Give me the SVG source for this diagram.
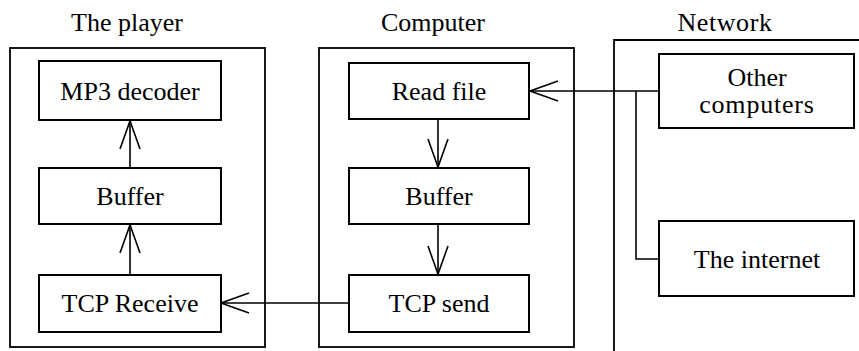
<svg xmlns="http://www.w3.org/2000/svg" width="859" height="351" viewBox="0 0 859 351" font-family="'Liberation Serif', 'Times New Roman', 'DejaVu Serif', serif">
  <defs>
    <style>
      .frame { fill: none; stroke: #000; stroke-width: 1.8; }
      .box { fill: #fff; stroke: #000; stroke-width: 2; }
      .wire { fill: none; stroke: #000; stroke-width: 1.6; }
      .label { font-family: 'Liberation Serif', 'Times New Roman', 'DejaVu Serif', serif; font-size: 26px; fill: #000; text-anchor: middle; }
    </style>
  </defs>

  <!-- group frames -->
  <g id="player">
    <rect class="frame" x="10" y="48" width="255" height="299"/>
    <text class="label" x="127" y="31">The player</text>
  </g>
  <g id="computer">
    <rect class="frame" x="319" y="48" width="255" height="299"/>
    <text class="label" x="433" y="31">Computer</text>
  </g>
  <g id="network">
    <path class="frame" d="M614 351 V40 H859"/>
    <text class="label" x="725" y="31" letter-spacing="0.6">Network</text>
  </g>

  <!-- connectors, each with an open V head -->
  <g id="connectors">
    <!-- player: TCP Receive -> Buffer -> MP3 decoder -->
    <path class="wire" d="M130 275 V225"/>
    <path class="wire" d="M120 253 L130 225 L140 253"/>
    <path class="wire" d="M130 168 V121"/>
    <path class="wire" d="M120 149 L130 121 L140 149"/>
    <!-- computer: Read file -> Buffer -> TCP send -->
    <path class="wire" d="M438 119 V167"/>
    <path class="wire" d="M428 139 L438 167 L448 139"/>
    <path class="wire" d="M438 224 V274"/>
    <path class="wire" d="M428 246 L438 274 L448 246"/>
    <!-- TCP send -> TCP Receive -->
    <path class="wire" d="M349 303 H221"/>
    <path class="wire" d="M249 293 L221 303 L249 313"/>
    <!-- network sources -> Read file -->
    <path class="wire" d="M659 91 H530"/>
    <path class="wire" d="M558 81 L530 91 L558 101"/>
    <path class="wire" d="M636 91 V259 H659"/>
  </g>

  <!-- nodes -->
  <g id="mp3-decoder">
    <rect class="box" x="39" y="61" width="182" height="59"/>
    <text class="label" x="130" y="100">MP3 decoder</text>
  </g>
  <g id="player-buffer">
    <rect class="box" x="39" y="168" width="182" height="56"/>
    <text class="label" x="130" y="205">Buffer</text>
  </g>
  <g id="tcp-receive">
    <rect class="box" x="39" y="275" width="182" height="57"/>
    <text class="label" x="130" y="312">TCP Receive</text>
  </g>
  <g id="read-file">
    <rect class="box" x="349" y="63" width="180" height="56"/>
    <text class="label" x="439" y="100">Read file</text>
  </g>
  <g id="computer-buffer">
    <rect class="box" x="349" y="168" width="180" height="56"/>
    <text class="label" x="439" y="205">Buffer</text>
  </g>
  <g id="tcp-send">
    <rect class="box" x="349" y="275" width="180" height="57"/>
    <text class="label" x="439" y="312">TCP send</text>
  </g>
  <g id="other-computers">
    <rect class="box" x="659" y="54" width="195" height="74"/>
    <text class="label" x="757" y="86">Other</text>
    <text class="label" x="757" y="113" letter-spacing="0.8">computers</text>
  </g>
  <g id="the-internet">
    <rect class="box" x="659" y="221" width="195" height="75"/>
    <text class="label" x="757" y="268">The internet</text>
  </g>
</svg>
